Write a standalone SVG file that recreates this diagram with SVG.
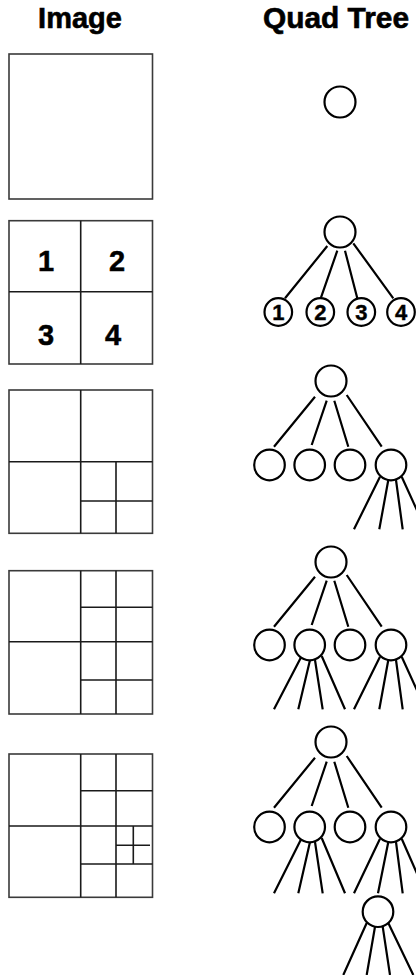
<svg xmlns="http://www.w3.org/2000/svg" width="416" height="975" viewBox="0 0 416 975">
<style>
.title{font-family:"Liberation Sans",Arial,sans-serif;font-weight:bold;font-size:29px;fill:#000;stroke:#000;stroke-width:0.6}
.digit{font-family:"Liberation Sans",Arial,sans-serif;font-weight:bold;font-size:29px;fill:#000;text-anchor:middle;stroke:#000;stroke-width:0.5}
.leafnum{font-family:"Liberation Sans",Arial,sans-serif;font-weight:bold;font-size:22px;fill:#000;text-anchor:middle;stroke:#000;stroke-width:0.4}
.box{fill:#fff;stroke:#3a3a3a;stroke-width:1.6}
.grid{stroke:#1a1a1a;stroke-width:1.6;fill:none}
.node{fill:#fff;stroke:#000;stroke-width:2.2}
.edge{stroke:#000;stroke-width:2.2;fill:none}
</style>
<rect width="416" height="975" fill="#fff"/>
<g id="titles">
<text class="title" x="80" y="28" text-anchor="middle">Image</text>
<text class="title" x="263" y="28" textLength="146" lengthAdjust="spacingAndGlyphs">Quad Tree</text>
</g>
<g id="image1"><rect class="box" x="9" y="54" width="143.5" height="145"/></g>
<g id="image2">
<rect class="box" x="9" y="220.7" width="143.5" height="143.3"/>
<path class="grid" d="M80.7 220.7V364M9 291.7H152.5"/>
<text class="digit" x="46" y="270.7">1</text>
<text class="digit" x="117" y="270.7">2</text>
<text class="digit" x="46" y="345">3</text>
<text class="digit" x="113" y="345">4</text>
</g>
<g id="image3">
<rect class="box" x="9" y="390" width="143.5" height="143.3"/>
<path class="grid" d="M80.7 390V533.3M9 461.7H152.5M116 461.7V533.3M80.7 501H152.5"/>
</g>
<g id="image4">
<rect class="box" x="9" y="570.7" width="143.5" height="143.3"/>
<path class="grid" d="M80.7 570.7V714M9 641.7H152.5M116 570.7V714M80.7 607.3H152.5M80.7 680H152.5"/>
</g>
<g id="image5">
<rect class="box" x="9" y="754" width="143.5" height="143.3"/>
<path class="grid" d="M80.7 754V897.3M9 826H152.5M116 754V897.3M80.7 790.7H152.5M80.7 864H152.5M133.3 826V864M116 845.3H150"/>
</g>
<g id="connectors">
<path class="edge" d="M327.3 246L285 298.3M337.3 250.7L320.7 298.3M345 250.7L357.3 298.3M353.3 243.3L393.3 298.3"/>
<path class="edge" d="M315 396.7L274 446.7M326.7 400.7L311.7 445M334.3 400.7L348.3 446.7M346.7 395L381.7 446.7"/>
<path class="edge" d="M380 476.7L354 529.3M388.3 480L379.3 529.3M396 480L402.7 529.3M401.7 476.7L425.7 529.3"/>
<path class="edge" d="M315 576.7L274 626.7M326.7 580.7L311.7 625M334.3 580.7L348.3 626.7M346.7 575L381.7 626.7"/>
<path class="edge" d="M301.7 656L274 709.3M310 660L298.3 709.3M315 660L322.7 709.3M321.7 656L345 709.3"/>
<path class="edge" d="M380 656.7L354 709.3M388.3 660L379.3 709.3M396 660L402.7 709.3M401.7 656.7L425.7 709.3"/>
<path class="edge" d="M315 757.7L274 807.7M326.7 761.7L311.7 806M334.3 761.7L348.3 807.7M346.7 756L381.7 807.7"/>
<path class="edge" d="M301.7 838L274 893.3M310 842L298.3 893.3M315 842L322.7 893.3M321.7 838L345 893.3"/>
<path class="edge" d="M380 838.7L354 893.3M388.3 842L378 893.3M396 842L402.7 893.3M401.7 838.7L425.7 893.3"/>
<path class="edge" d="M366.7 923L343.3 975M375 926.7L366.7 975M382.7 926.7L390 975M388.3 923L413.3 975"/>
</g>
<g id="tree1-root"><circle class="node" cx="340" cy="102" r="15.5"/></g>
<g id="tree2-root"><circle class="node" cx="340" cy="232" r="15.5"/></g>
<g id="tree2-n1"><circle class="node" cx="278.3" cy="312" r="13.8"/><text class="leafnum" x="278.3" y="320">1</text></g>
<g id="tree2-n2"><circle class="node" cx="320.3" cy="312" r="13.8"/><text class="leafnum" x="320.3" y="320">2</text></g>
<g id="tree2-n3"><circle class="node" cx="361.3" cy="312" r="13.8"/><text class="leafnum" x="361.3" y="320">3</text></g>
<g id="tree2-n4"><circle class="node" cx="401" cy="312" r="13.8"/><text class="leafnum" x="401" y="320">4</text></g>
<g id="tree3-root"><circle class="node" cx="331" cy="381" r="15.5"/></g>
<g id="tree3-n1"><circle class="node" cx="269.5" cy="465" r="15.3"/></g>
<g id="tree3-n2"><circle class="node" cx="309.7" cy="465" r="15.3"/></g>
<g id="tree3-n3"><circle class="node" cx="350" cy="465" r="15.3"/></g>
<g id="tree3-n4"><circle class="node" cx="391" cy="465" r="15.3"/></g>
<g id="tree4-root"><circle class="node" cx="331" cy="562" r="15.5"/></g>
<g id="tree4-n1"><circle class="node" cx="269.5" cy="645" r="15.3"/></g>
<g id="tree4-n2"><circle class="node" cx="309.7" cy="645" r="15.3"/></g>
<g id="tree4-n3"><circle class="node" cx="350" cy="645" r="15.3"/></g>
<g id="tree4-n4"><circle class="node" cx="391" cy="645" r="15.3"/></g>
<g id="tree5-root"><circle class="node" cx="331" cy="742" r="15.5"/></g>
<g id="tree5-n1"><circle class="node" cx="269.5" cy="827" r="15.3"/></g>
<g id="tree5-n2"><circle class="node" cx="309.7" cy="827" r="15.3"/></g>
<g id="tree5-n3"><circle class="node" cx="350" cy="827" r="15.3"/></g>
<g id="tree5-n4"><circle class="node" cx="391" cy="827" r="15.3"/></g>
<g id="tree5-n4-2"><circle class="node" cx="378" cy="911.7" r="15.3"/></g>
</svg>
